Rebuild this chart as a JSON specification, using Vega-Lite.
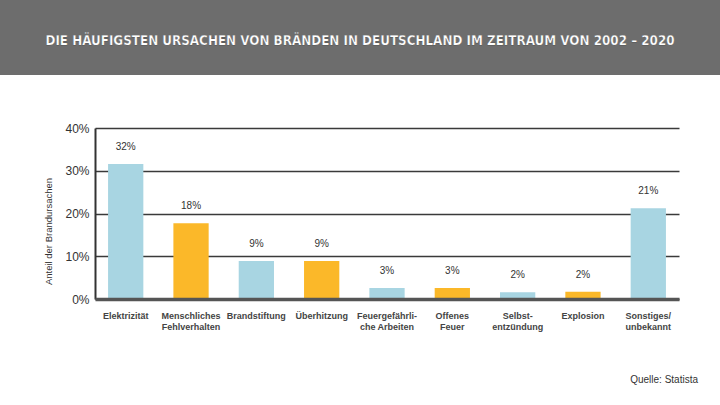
{
  "$schema": "https://vega.github.io/schema/vega-lite/v6.json",
  "padding": 0,
  "background": "white",
  "spacing": 47,
  "config": {"view": {"stroke": null}},
  "vconcat": [
    {
      "width": 720,
      "height": 75,
      "view": {"fill": "#6d6d6d", "stroke": null},
      "data": {"values": [{"title": "DIE HÄUFIGSTEN URSACHEN VON BRÄNDEN IN DEUTSCHLAND IM ZEITRAUM VON 2002 – 2020"}]},
      "mark": {"type": "text", "font": "DejaVu Sans Condensed, Liberation Sans Narrow, sans-serif", "fontWeight": "bold", "fontSize": 13.3, "color": "white", "stroke": "#3a3a3a", "strokeWidth": 0.25, "baseline": "middle", "align": "center", "dy": 3},
      "encoding": {"text": {"field": "title", "type": "nominal"}}
    },
    {
      "spacing": 0,
      "hconcat": [
        {
          "width": 43,
          "height": 10,
          "view": {"fill": "transparent", "stroke": null},
          "data": {"values": [{}]},
          "mark": "text",
          "encoding": {"text": {"value": ""}}
        },
        {
          "width": 584,
          "height": 171,
          "data": {
            "values": [
              {"cause": "Elektrizität", "share": 0.316},
              {"cause": "Menschliches|Fehlverhalten", "share": 0.177},
              {"cause": "Brandstiftung", "share": 0.089},
              {"cause": "Überhitzung", "share": 0.089},
              {"cause": "Feuergefährli-|che Arbeiten", "share": 0.026},
              {"cause": "Offenes|Feuer", "share": 0.026},
              {"cause": "Selbst-|entzündung", "share": 0.016},
              {"cause": "Explosion", "share": 0.017},
              {"cause": "Sonstiges/|unbekannt", "share": 0.212}
            ]
          },
          "title": {
            "text": "Quelle: Statista",
            "orient": "bottom",
            "anchor": "end",
            "frame": "group",
            "font": "Liberation Sans",
            "fontSize": 10,
            "fontWeight": "normal",
            "color": "#333",
            "offset": 44,
            "dx": 19
          },
          "encoding": {
            "x": {
              "field": "cause",
              "type": "nominal",
              "sort": null,
              "scale": {"paddingInner": 0.46, "paddingOuter": 0.2},
              "axis": {
                "title": null,
                "labelAngle": 0,
                "ticks": false,
                "domainColor": "#555",
                "domainWidth": 3.5,
                "labelPadding": 12,
                "labelFont": "Liberation Sans",
                "labelFontSize": 9,
                "labelFontWeight": "bold",
                "labelColor": "#444",
                "labelLineHeight": 11,
                "labelExpr": "split(datum.label, '|')",
                "zindex": 1
              }
            },
            "y": {
              "field": "share",
              "type": "quantitative",
              "scale": {"domain": [0, 0.4], "nice": false},
              "axis": {
                "title": "Anteil der Brandursachen",
                "format": ".0%",
                "values": [0, 0.1, 0.2, 0.3, 0.4],
                "domainColor": "#333",
                "domainWidth": 2,
                "gridColor": "#3a3a3a",
                "gridWidth": 1.5,
                "ticks": false,
                "labelFlush": false,
                "labelPadding": 6,
                "labelFont": "Liberation Sans",
                "labelFontSize": 12,
                "labelColor": "#333",
                "titleFont": "Liberation Sans",
                "titleFontSize": 9.5,
                "titleFontWeight": "normal",
                "titleColor": "#333",
                "titlePadding": 11,
                "titleY": 103
              }
            }
          },
          "layer": [
            {
              "mark": {"type": "bar"},
              "encoding": {
                "color": {
                  "field": "cause",
                  "type": "nominal",
                  "sort": null,
                  "legend": null,
                  "scale": {"range": ["#a8d5e2", "#fbb829", "#a8d5e2", "#fbb829", "#a8d5e2", "#fbb829", "#a8d5e2", "#fbb829", "#a8d5e2"]}
                }
              }
            },
            {
              "mark": {"type": "text", "baseline": "bottom", "dy": -12, "font": "Liberation Sans", "fontSize": 10, "color": "#333"},
              "encoding": {"text": {"field": "share", "type": "quantitative", "format": ".0%"}}
            }
          ]
        }
      ]
    }
  ]
}
